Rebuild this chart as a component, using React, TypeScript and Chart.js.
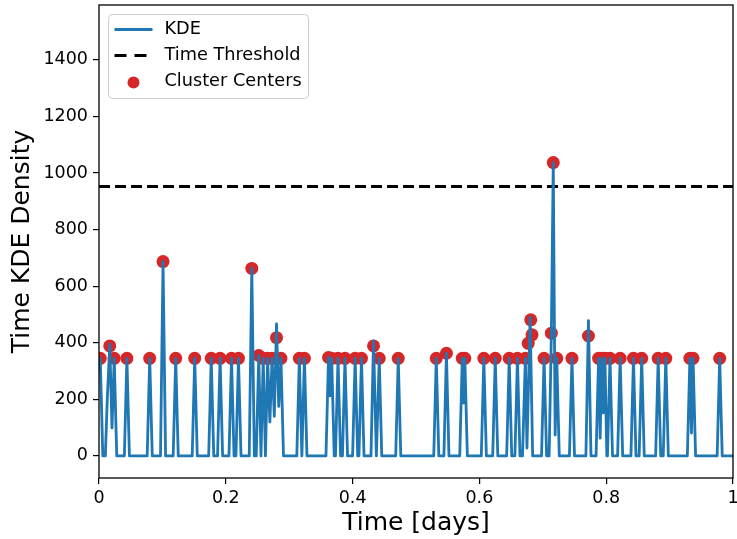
import React, { useEffect, useRef } from 'react';
import { Chart, registerables } from 'chart.js';

Chart.register(...registerables);

const FONT = '"DejaVu Sans", "Liberation Sans", sans-serif';

// Axis ticks
const X_TICKS = [0, 0.2, 0.4, 0.6, 0.8, 1];
const Y_TICKS = [0, 200, 400, 600, 800, 1000, 1200, 1400];
const Y_MIN = -78;
const Y_MAX = 1594;

// Time threshold
const THRESHOLD = 952;

// KDE curve points [time, density]
const KDE_POINTS: [number, number][] = [
  [0.000, 300], [0.002, 345], [0.006, 0], [0.010, 0], [0.013, 198], [0.017, 395], [0.0205, 99], [0.024, 345], [0.028, 0],
  [0.040, 0], [0.044, 345], [0.048, 0],
  [0.076, 0], [0.080, 345], [0.084, 0],
  [0.097, 0], [0.101, 687], [0.105, 0],
  [0.117, 0], [0.121, 345], [0.125, 0],
  [0.147, 0], [0.151, 345], [0.155, 0],
  [0.173, 0], [0.177, 345], [0.181, 0],
  [0.187, 0], [0.191, 345], [0.195, 0],
  [0.205, 0], [0.209, 345], [0.213, 0],
  [0.216, 0], [0.220, 345], [0.224, 0],
  [0.237, 0], [0.241, 663], [0.245, 0],
  [0.248, 0], [0.252, 355], [0.2555, 0], [0.259, 345], [0.2625, 0], [0.266, 345], [0.2695, 120], [0.273, 345], [0.2765, 140], [0.280, 467], [0.2835, 175], [0.287, 345], [0.291, 0],
  [0.312, 0], [0.316, 345], [0.320, 0], [0.324, 345], [0.328, 0],
  [0.358, 0], [0.362, 348], [0.3645, 212], [0.367, 345], [0.371, 0],
  [0.373, 0], [0.377, 345], [0.381, 0],
  [0.384, 0], [0.388, 345], [0.392, 0],
  [0.400, 0], [0.404, 345], [0.408, 0],
  [0.410, 0], [0.414, 345], [0.418, 0],
  [0.429, 0], [0.433, 407], [0.4375, 0], [0.442, 345], [0.446, 0],
  [0.468, 0], [0.472, 345], [0.476, 0],
  [0.528, 0], [0.532, 345], [0.536, 0],
  [0.544, 0], [0.548, 363], [0.552, 0],
  [0.569, 0], [0.573, 345], [0.575, 187], [0.577, 345], [0.581, 0],
  [0.603, 0], [0.607, 345], [0.611, 0],
  [0.621, 0], [0.625, 345], [0.629, 0],
  [0.643, 0], [0.647, 345], [0.651, 0],
  [0.656, 0], [0.660, 345], [0.664, 0],
  [0.668, 0], [0.6725, 345], [0.675, 28], [0.680, 490], [0.684, 0],
  [0.698, 0], [0.702, 345], [0.706, 0],
  [0.710, 0], [0.7135, 435], [0.7165, 1037], [0.7195, 74], [0.722, 345], [0.726, 0],
  [0.742, 0], [0.746, 345], [0.750, 0],
  [0.768, 0], [0.772, 478], [0.776, 0],
  [0.784, 0], [0.788, 345], [0.7905, 63], [0.793, 345], [0.7955, 152], [0.798, 345], [0.801, 0], [0.802, 0], [0.806, 345], [0.810, 0],
  [0.818, 0], [0.822, 345], [0.826, 0],
  [0.839, 0], [0.843, 345], [0.847, 0],
  [0.852, 0], [0.856, 345], [0.860, 0],
  [0.878, 0], [0.882, 345], [0.886, 0],
  [0.890, 0], [0.894, 345], [0.898, 0],
  [0.928, 0], [0.932, 345], [0.9345, 81], [0.937, 345], [0.941, 0],
  [0.975, 0], [0.979, 345], [0.983, 0], [1.0, 0],
];

// Cluster centers
const CENTER_X = [
  0.002, 0.017, 0.024, 0.044, 0.080, 0.101, 0.121, 0.151, 0.177, 0.191,
  0.209, 0.220, 0.241, 0.252, 0.259, 0.266, 0.273, 0.280, 0.287, 0.316,
  0.324, 0.362, 0.367, 0.377, 0.388, 0.404, 0.414, 0.433, 0.442, 0.472,
  0.532, 0.548, 0.573, 0.577, 0.607, 0.625, 0.647, 0.660, 0.6725, 0.677,
  0.681, 0.683, 0.702, 0.7135, 0.7165, 0.722, 0.746, 0.772, 0.788, 0.793,
  0.798, 0.806, 0.822, 0.843, 0.856, 0.882, 0.894, 0.932, 0.937, 0.979,
];
const CENTER_Y = [
  345, 389, 345, 345, 345, 687, 345, 345, 345, 345,
  345, 345, 663, 355, 345, 345, 345, 418, 345, 345,
  345, 348, 345, 345, 345, 345, 345, 389, 345, 345,
  345, 363, 345, 345, 345, 345, 345, 345, 345, 398,
  481, 428, 345, 434, 1037, 345, 345, 424, 345, 345,
  345, 345, 345, 345, 345, 345, 345, 345, 345, 345,
];

const LEGEND_LABELS = ['KDE', 'Time Threshold', 'Cluster Centers'];

const KDE_COLOR = '#1f77b4';
const CENTER_COLOR = '#d62728';

const framePlugin = {
  id: 'frame',
  afterDatasetsDraw(chart: any) {
    const { ctx, chartArea: a } = chart;
    ctx.save();
    ctx.strokeStyle = '#000';
    ctx.lineWidth = 1.3;
    ctx.strokeRect(a.left, a.top, a.right - a.left, a.bottom - a.top);
    ctx.restore();
  },
};

const legendPlugin = {
  id: 'mplLegend',
  afterDraw(chart: any) {
    const { ctx, chartArea: a } = chart;
    const x = a.left + 9.5;
    const y = a.top + 9.5;
    const w = 200;
    const h = 84;
    ctx.save();
    ctx.beginPath();
    if ((ctx as any).roundRect) (ctx as any).roundRect(x, y, w, h, 4);
    else ctx.rect(x, y, w, h);
    ctx.fillStyle = 'rgba(255,255,255,0.8)';
    ctx.fill();
    ctx.strokeStyle = '#cccccc';
    ctx.lineWidth = 1;
    ctx.stroke();

    const rows = [y + 15, y + 41, y + 67];
    const hx0 = x + 6;
    const hx1 = x + 44;
    // KDE line
    ctx.strokeStyle = KDE_COLOR;
    ctx.lineWidth = 2.8;
    ctx.beginPath();
    ctx.moveTo(hx0, rows[0]);
    ctx.lineTo(hx1, rows[0]);
    ctx.stroke();
    // threshold dashed
    ctx.strokeStyle = '#000';
    ctx.lineWidth = 3;
    ctx.setLineDash([12, 8]);
    ctx.beginPath();
    ctx.moveTo(hx0, rows[1]);
    ctx.lineTo(hx1 - 4, rows[1]);
    ctx.stroke();
    ctx.setLineDash([]);
    // scatter dot
    ctx.fillStyle = CENTER_COLOR;
    ctx.beginPath();
    ctx.arc(x + 25, rows[2] + 1, 6, 0, Math.PI * 2);
    ctx.fill();
    // labels
    ctx.fillStyle = '#000';
    ctx.font = `17.7px ${FONT}`;
    ctx.textBaseline = 'middle';
    ctx.textAlign = 'left';
    LEGEND_LABELS.forEach((t, i) => ctx.fillText(t, x + 56, rows[i]));
    ctx.restore();
  },
};

function fmtX(v: number): string {
  if (v === 0) return '0';
  if (v === 1) return '1';
  return v.toFixed(1);
}

export default function App() {
  const ref = useRef<HTMLCanvasElement | null>(null);

  useEffect(() => {
    if (!ref.current) return;
    const chart = new Chart(ref.current, {
      type: 'scatter',
      data: {
        datasets: [
          {
            label: LEGEND_LABELS[0],
            data: KDE_POINTS.map(([x, y]) => ({ x, y })),
            showLine: true,
            borderColor: KDE_COLOR,
            borderWidth: 2.8,
            borderJoinStyle: 'round',
            pointRadius: 0,
            tension: 0,
            order: 0,
          } as any,
          {
            label: LEGEND_LABELS[1],
            data: [
              { x: 0, y: THRESHOLD },
              { x: 1, y: THRESHOLD },
            ],
            showLine: true,
            borderColor: '#000',
            borderWidth: 3,
            borderDash: [11, 5],
            pointRadius: 0,
            order: 1,
          } as any,
          {
            label: LEGEND_LABELS[2],
            data: CENTER_X.map((x, i) => ({ x, y: CENTER_Y[i] })),
            backgroundColor: CENTER_COLOR,
            borderWidth: 0,
            pointRadius: 6.5,
            order: 2,
          } as any,
        ],
      },
      options: {
        responsive: false,
        animation: false,
        devicePixelRatio: 1,
        layout: { autoPadding: false, padding: { top: 5, right: 4, left: 0, bottom: 0 } },
        plugins: {
          legend: { display: false },
          tooltip: { enabled: false },
        },
        scales: {
          x: {
            type: 'linear',
            min: 0,
            max: 1,
            afterBuildTicks: (s: any) => {
              s.ticks = X_TICKS.map((v) => ({ value: v }));
            },
            afterFit: (s: any) => {
              s.height = 61;
              s.paddingLeft = 0;
              s.paddingRight = 0;
            },
            border: { display: false },
            grid: {
              drawOnChartArea: false,
              drawTicks: true,
              tickLength: 6,
              color: '#000',
              lineWidth: 1.2,
            },
            ticks: {
              color: '#000',
              font: { family: FONT, size: 17.5 },
              padding: 4,
              maxRotation: 0,
              autoSkip: false,
              callback: (v: any) => fmtX(Number(v)),
            },
            title: {
              display: true,
              text: 'Time [days]',
              color: '#000',
              font: { family: FONT, size: 25 },
              padding: { top: 0, bottom: 1 },
            },
          },
          y: {
            type: 'linear',
            min: Y_MIN,
            max: Y_MAX,
            afterBuildTicks: (s: any) => {
              s.ticks = Y_TICKS.map((v) => ({ value: v }));
            },
            afterFit: (s: any) => {
              s.width = 99;
              s.paddingTop = 0;
              s.paddingBottom = 0;
            },
            border: { display: false },
            grid: {
              drawOnChartArea: false,
              drawTicks: true,
              tickLength: 6,
              color: '#000',
              lineWidth: 1.2,
            },
            ticks: {
              color: '#000',
              font: { family: FONT, size: 17.5 },
              padding: 5,
              autoSkip: false,
              callback: (v: any) => String(v),
            },
            title: {
              display: true,
              text: 'Time KDE Density',
              color: '#000',
              font: { family: FONT, size: 25 },
              padding: { top: 7, bottom: 0 },
            },
          },
        },
      } as any,
      plugins: [framePlugin, legendPlugin],
    });
    return () => chart.destroy();
  }, []);

  return (
    <div style={{ position: 'absolute', left: 0, top: 0, width: 737, height: 539 }}>
      <canvas ref={ref} width={737} height={539} style={{ display: 'block' }} />
    </div>
  );
}
